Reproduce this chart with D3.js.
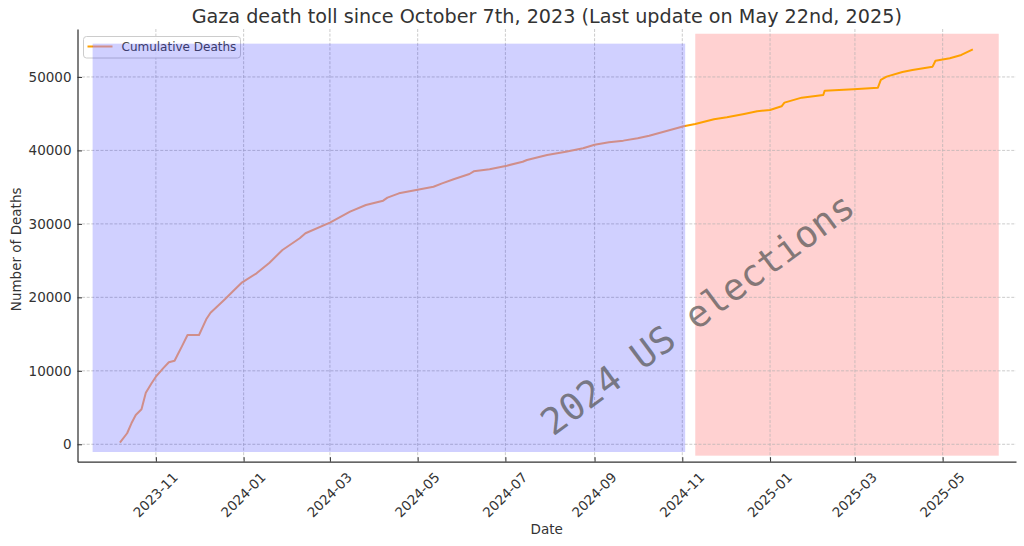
<!DOCTYPE html>
<html>
<head>
<meta charset="utf-8">
<script src="https://cdn.jsdelivr.net/npm/d3@7"></script>
<style>
  html, body { margin: 0; padding: 0; background: #fff; }
  svg { display: block; font-family: "DejaVu Sans", sans-serif; }
</style>
</head>
<body>
<svg id="chart" width="1024" height="546"></svg>
<script>
// ---- data ----
const dates = ["2023-10-07","2023-10-12","2023-10-15","2023-10-18","2023-10-22","2023-10-25","2023-10-29","2023-11-01","2023-11-06","2023-11-10","2023-11-14","2023-11-16","2023-11-19","2023-11-23","2023-12-01","2023-12-06","2023-12-09","2023-12-14","2023-12-19","2023-12-26","2023-12-31","2024-01-10","2024-01-19","2024-01-28","2024-02-09","2024-02-13","2024-03-01","2024-03-15","2024-03-26","2024-04-07","2024-04-10","2024-04-18","2024-04-30","2024-05-12","2024-05-18","2024-05-26","2024-06-06","2024-06-09","2024-06-20","2024-07-02","2024-07-13","2024-07-16","2024-07-30","2024-08-12","2024-08-24","2024-09-01","2024-09-11","2024-09-21","2024-10-01","2024-10-09","2024-10-21","2024-11-02","2024-11-10","2024-11-23","2024-12-02","2024-12-14","2024-12-23","2025-01-01","2025-01-09","2025-01-11","2025-01-23","2025-02-07","2025-02-08","2025-02-28","2025-03-17","2025-03-19","2025-03-23","2025-04-03","2025-04-10","2025-04-24","2025-04-26","2025-05-06","2025-05-14","2025-05-22"];
const deaths = [220,1500,2860,3990,4760,7020,8300,9200,10340,11160,11380,12150,13290,14880,14880,17010,17910,18820,19730,21100,22050,23270,24720,26450,28040,28720,30160,31660,32570,33160,33570,34160,34610,35060,35520,36070,36790,37150,37430,37920,38460,38700,39380,39830,40290,40780,41100,41330,41650,42000,42640,43300,43600,44230,44500,44960,45320,45500,46000,46500,47180,47540,48130,48320,48540,49590,50040,50680,50950,51400,52210,52540,52990,53760];
const xTickLabels = ["2023-11","2024-01","2024-03","2024-05","2024-07","2024-09","2024-11","2025-01","2025-03","2025-05"];
const yTickValues = [0,10000,20000,30000,40000,50000];
const xDomain = ["2023-09-07T12:00:00Z","2025-06-21T00:00:00Z"];
const yDomain = [-2370, 56525];
const beforeSpan = {start:"2023-09-18", end:"2024-11-03", low:-1050, high:54530};
const afterSpan  = {start:"2024-11-10", end:"2025-06-09", low:-1550, high:55880};
const titleText = "Gaza death toll since October 7th, 2023 (Last update on May 22nd, 2025)";
const seriesName = "Cumulative Deaths";
const annotationText = "2024 US elections";

// ---- layout ----
const svg = d3.select("#chart");
const L = 77.5, R = 1016, T = 29, B = 461.7;
const parse = s => new Date(s.length > 10 ? s : s + "T00:00:00Z");
const x = d3.scaleUtc().domain(xDomain.map(parse)).range([L, R]);
const y = d3.scaleLinear().domain(yDomain).range([B, T]);
const data = dates.map((d, i) => ({date: parse(d), v: deaths[i]}));

const bx0 = x(parse(beforeSpan.start)), bx1 = x(parse(beforeSpan.end));

// stroke gradient: line looks salmon where the blue veil covers it
const defs = svg.append("defs");
const grad = defs.append("linearGradient").attr("id", "lineGrad")
  .attr("gradientUnits", "userSpaceOnUse").attr("x1", 0).attr("x2", 1024).attr("y1", 0).attr("y2", 0);
[[0, "#ffa000"], [bx0 / 1024, "#ffa000"], [bx0 / 1024, "#ffae70"], [bx1 / 1024, "#ffae70"], [bx1 / 1024, "#ffa000"], [1, "#ffa000"]]
  .forEach(([o, c]) => grad.append("stop").attr("offset", o).attr("stop-color", c));

// after-election span (below line)
svg.append("rect")
  .attr("x", x(parse(afterSpan.start))).attr("y", y(afterSpan.high))
  .attr("width", x(parse(afterSpan.end)) - x(parse(afterSpan.start)))
  .attr("height", y(afterSpan.low) - y(afterSpan.high))
  .attr("fill", "#ff0000").attr("fill-opacity", 0.18);

// grid
const gridG = svg.append("g").attr("stroke", "#b0b0b0").attr("stroke-width", 0.8)
  .attr("stroke-dasharray", "3,1.6").attr("opacity", 0.8);
yTickValues.forEach(v => gridG.append("line").attr("x1", L).attr("x2", R).attr("y1", y(v)).attr("y2", y(v)));
xTickLabels.forEach(t => { const xx = x(parse(t + "-01")); gridG.append("line").attr("x1", xx).attr("x2", xx).attr("y1", T).attr("y2", B); });

// line
const line = d3.line().x(d => x(d.date)).y(d => y(d.v));
svg.append("path").datum(data).attr("d", line)
  .attr("fill", "none").attr("stroke", "url(#lineGrad)").attr("stroke-width", 2).attr("stroke-linejoin", "round");

// axes
const xAxis = d3.axisBottom(x).tickValues(xTickLabels.map(t => parse(t + "-01"))).tickFormat(d3.utcFormat("%Y-%m")).tickSizeInner(-4.5).tickSizeOuter(0);
const gx = svg.append("g").attr("transform", `translate(0,${B})`).call(xAxis);
gx.select(".domain").attr("stroke", "#333").attr("stroke-width", 1.25);
gx.selectAll(".tick line").attr("stroke", "#333").attr("stroke-width", 1);
gx.selectAll(".tick text").remove();
gx.selectAll(".tick").append("text")
  .attr("fill", "#333").attr("font-size", "13.5px").attr("font-family", "DejaVu Sans")
  .attr("text-anchor", "middle").attr("dominant-baseline", "central")
  .attr("transform", "translate(-1,33) rotate(-45)")
  .text(d => d3.utcFormat("%Y-%m")(d));

const yAxis = d3.axisLeft(y).tickValues(yTickValues).tickFormat(d3.format("d")).tickSizeInner(-4.5).tickSizeOuter(0);
const gy = svg.append("g").attr("transform", `translate(${L},0)`).call(yAxis);
gy.select(".domain").attr("stroke", "#333").attr("stroke-width", 1.25);
gy.selectAll(".tick line").attr("stroke", "#333").attr("stroke-width", 1);
gy.selectAll(".tick text").attr("x", -6).attr("fill", "#333").attr("font-size", "13.5px").attr("font-family", "DejaVu Sans");

// axis labels & title
svg.append("text").attr("x", (L + R) / 2).attr("y", 534).attr("text-anchor", "middle")
  .attr("fill", "#333").attr("font-size", "13.5px").text("Date");
svg.append("text").attr("transform", `translate(16,${(T + B) / 2 + 4}) rotate(-90)`).attr("text-anchor", "middle")
  .attr("dominant-baseline", "central")
  .attr("fill", "#333").attr("font-size", "13.5px").text("Number of Deaths");
svg.append("text").attr("x", (L + R) / 2).attr("y", 23).attr("text-anchor", "middle")
  .attr("fill", "#333").attr("font-size", "19.2px").text(titleText);

// legend
const lg = svg.append("g");
lg.append("rect").attr("x", 83.5).attr("y", 36.5).attr("width", 157).attr("height", 21.5).attr("rx", 3)
  .attr("fill", "#fff").attr("fill-opacity", 0.8).attr("stroke", "#cccccc").attr("stroke-width", 1);
lg.append("line").attr("x1", 87.5).attr("x2", 112.5).attr("y1", 46.5).attr("y2", 46.5)
  .attr("stroke", "url(#lineGrad)").attr("stroke-width", 2);
lg.append("text").attr("x", 121.5).attr("y", 51).attr("fill", "#4a4a4a").attr("font-size", "12px").text(seriesName);

// before-election span (on top)
svg.append("rect")
  .attr("x", bx0).attr("y", y(beforeSpan.high))
  .attr("width", bx1 - bx0)
  .attr("height", y(beforeSpan.low) - y(beforeSpan.high))
  .attr("fill", "#0000ff").attr("fill-opacity", 0.185);

// annotation
svg.append("text").attr("transform", "translate(553,437) rotate(-36.5)")
  .attr("font-family", "DejaVu Sans Mono").attr("font-size", "37px")
  .attr("fill", "#555").attr("fill-opacity", 0.72).text(annotationText);
</script>
</body>
</html>
